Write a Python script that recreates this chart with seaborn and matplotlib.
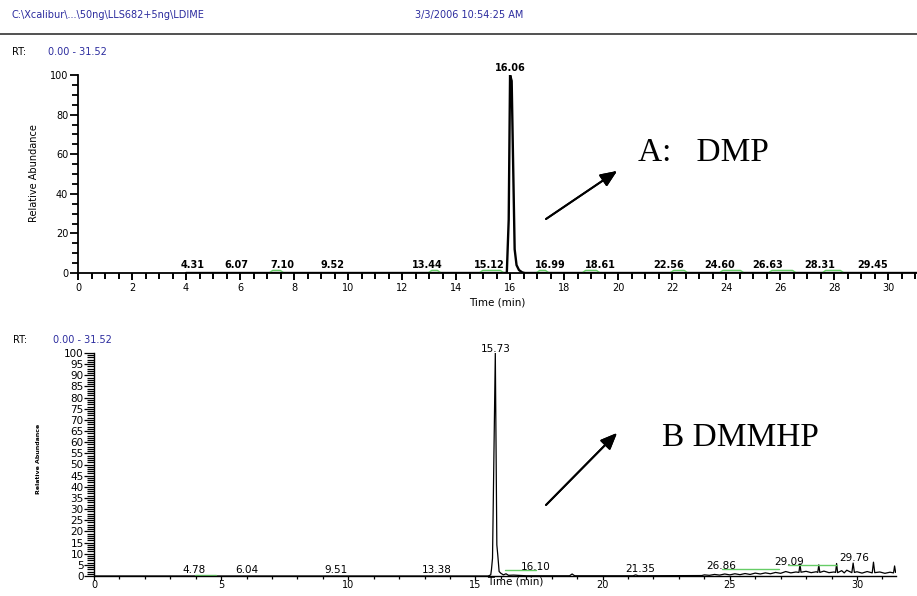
import matplotlib
matplotlib.use("Agg")
import pandas as pd
import matplotlib.pyplot as plt
from matplotlib.lines import Line2D
from matplotlib.ticker import MultipleLocator
import seaborn as sns

# header texts
file_path = r"C:\Xcalibur\...\50ng\LLS682+5ng\LDIME"
run_date = "3/3/2006 10:54:25 AM"
rt_range = "0.00 - 31.52"

# panel A (DMP) trace
a_time = [4.00, 15.88, 15.95, 16.00, 16.06, 16.11, 16.17, 16.24, 16.33, 16.45, 16.55, 31.07]
a_abund = [0, 0, 27, 100, 97, 58, 12, 4, 1.5, 0.3, 0, 0]

# panel A peak labels (text, x position where printed)
a_labels = ["4.31", "6.07", "7.10", "9.52", "13.44", "15.12", "16.99",
            "18.61", "22.56", "24.60", "26.63", "28.31", "29.45"]
a_label_x = [4.24, 5.85, 7.56, 9.43, 12.94, 15.22, 17.48,
             19.33, 21.87, 23.76, 25.52, 27.48, 29.41]
a_top_label = "16.06"
a_top_x = 16.02

# panel A integration marks (green)
a_green_start = [7.11, 13.00, 14.89, 17.00, 18.70, 21.96, 23.78, 25.60, 27.59]
a_green_end = [7.59, 13.41, 15.74, 17.41, 19.30, 22.55, 24.63, 26.56, 28.33]

# panel B (DMMHP) trace
b_time = [0.00, 15.50, 15.60, 15.63, 15.67, 15.78, 15.84, 15.88, 15.93, 16.00,
          16.10, 16.20, 16.30, 16.50, 17.00, 18.70, 18.80, 18.90, 21.20, 21.30,
          21.40, 23.90, 24.00, 24.20, 24.40, 24.60, 24.80, 25.00, 25.20, 25.40,
          25.60, 25.80, 26.00, 26.20, 26.40, 26.60, 26.80, 27.00, 27.20, 27.40,
          27.60, 27.72, 27.76, 27.80, 28.00, 28.20, 28.40, 28.46, 28.50, 28.54,
          28.70, 28.90, 29.10, 29.16, 29.20, 29.24, 29.40, 29.50, 29.60, 29.80,
          29.85, 29.90, 30.00, 30.20, 30.40, 30.60, 30.65, 30.70, 30.90, 31.10,
          31.30, 31.44, 31.48, 31.52]
b_abund = [0.0, 0.0, 0.5, 3.0, 8.0, 100.0, 14.0, 9.0, 2.0, 1.2,
           0.5, 1.0, 0.3, 0.4, 0.1, 0.1, 0.9, 0.1, 0.1, 0.5,
           0.1, 0.2, 0.5, 0.3, 0.7, 0.4, 0.9, 0.5, 1.0, 0.6,
           1.1, 0.7, 1.3, 0.9, 1.4, 1.0, 1.6, 1.2, 2.0, 1.4,
           1.8, 1.6, 5.5, 1.7, 2.1, 1.5, 1.9, 1.6, 5.0, 1.6,
           2.2, 1.5, 1.8, 1.6, 5.6, 1.5, 2.4, 1.4, 2.6, 1.5,
           5.8, 1.6, 1.9, 1.3, 2.0, 1.4, 6.2, 1.5, 1.8, 1.2,
           1.7, 1.4, 4.5, 1.6]

# panel B peak labels (text, x, y)
b_labels = ["4.78", "6.04", "9.51", "13.38", "15.73", "16.10", "21.35", "26.86", "29.09", "29.76"]
b_label_x = [3.93, 6.02, 9.52, 13.49, 15.81, 17.38, 21.47, 24.66, 27.33, 29.91]
b_label_y = [2.7, 2.7, 2.7, 2.7, 101.8, 4.0, 3.0, 4.5, 6.3, 8.0]

# panel B integration marks (green)
b_green_start = [3.97, 16.16, 24.70, 27.29]
b_green_end = [4.80, 17.38, 26.94, 29.22]
b_green_y = [0.5, 2.6, 3.0, 5.0]

df_a = pd.DataFrame({"time": a_time, "abund": a_abund})
df_b = pd.DataFrame({"time": b_time, "abund": b_abund})

sns.set_theme(style="ticks")
plt.rcParams["font.family"] = ["DejaVu Sans"]
plt.rcParams.update({"text.color": "black", "axes.labelcolor": "black",
                     "xtick.color": "black", "ytick.color": "black",
                     "xtick.labelcolor": "black", "ytick.labelcolor": "black"})

W, H = 917, 596
blue = "#2b2b9e"
green = "#66cc66"

fig = plt.figure(figsize=(W / 100, H / 100), dpi=100)
fig.patch.set_facecolor("white")


def fx(px):
    return px / W


def fy(py):
    return 1 - py / H


# header
fig.text(fx(12), fy(15), file_path, color=blue, fontsize=7, va="center", ha="left")
fig.text(fx(415), fy(15), run_date, color=blue, fontsize=7, va="center", ha="left")
fig.add_artist(Line2D([0, 1], [fy(34), fy(34)], transform=fig.transFigure, color="#333333", lw=1.2))

# ---------- panel A ----------
ax1 = fig.add_axes([fx(78), fy(273), fx(917 - 78), 198 / H])
sns.lineplot(data=df_a, x="time", y="abund", ax=ax1, color="black", lw=1.7,
             estimator=None, sort=False)
ax1.set_xlim(0, 31.07)
ax1.set_ylim(0, 100)
sns.despine(ax=ax1)
for s in ["left", "bottom"]:
    ax1.spines[s].set_linewidth(1.3)
    ax1.spines[s].set_color("black")
ax1.xaxis.set_major_locator(MultipleLocator(2))
ax1.xaxis.set_minor_locator(MultipleLocator(0.5))
ax1.yaxis.set_major_locator(MultipleLocator(20))
ax1.yaxis.set_minor_locator(MultipleLocator(5))
ax1.tick_params(axis="x", which="major", length=5, width=1.4, labelsize=7, pad=2)
ax1.tick_params(axis="x", which="minor", length=4.5, width=1.4)
ax1.tick_params(axis="y", which="major", length=6, width=1.3, labelsize=7, pad=1)
ax1.tick_params(axis="y", which="minor", length=4, width=1.3)
ax1.set_xlabel("Time (min)", fontsize=7.5)
ax1.xaxis.set_label_coords(0.5, -0.125)
ax1.set_ylabel("Relative Abundance", fontsize=7)
ax1.yaxis.set_label_coords(-0.047, 0.505)
ax1.set_facecolor("white")

for lab, x in zip(a_labels, a_label_x):
    ax1.text(x, 1.6, lab, fontsize=7, fontweight="bold", ha="center", va="bottom")
ax1.text(a_top_x, 100.8, a_top_label, fontsize=7, fontweight="bold", ha="center", va="bottom")
for x0, x1 in zip(a_green_start, a_green_end):
    ax1.plot([x0, x0 + 0.1, x1 - 0.1, x1], [0.4, 1.3, 1.3, 0.4], color=green, lw=1.0)

fig.text(fx(12), fy(52), "RT:", fontsize=7, va="center", ha="left")
fig.text(fx(48), fy(52), rt_range, fontsize=7, color=blue, va="center", ha="left")

# ---------- panel B ----------
ax2 = fig.add_axes([fx(94), fy(576), fx(801.6), 223 / H])
sns.lineplot(data=df_b, x="time", y="abund", ax=ax2, color="black", lw=0.9,
             estimator=None, sort=False)
ax2.set_xlim(0, 31.52)
ax2.set_ylim(0, 100)
sns.despine(ax=ax2)
for s in ["left", "bottom"]:
    ax2.spines[s].set_linewidth(1.0)
    ax2.spines[s].set_color("black")
ax2.xaxis.set_major_locator(MultipleLocator(5))
ax2.xaxis.set_minor_locator(MultipleLocator(1))
ax2.yaxis.set_major_locator(MultipleLocator(5))
ax2.yaxis.set_minor_locator(MultipleLocator(1))
ax2.tick_params(axis="x", which="major", length=3, width=0.9, labelsize=7, pad=0)
ax2.tick_params(axis="x", which="minor", length=2, width=0.9)
ax2.tick_params(axis="y", which="major", length=7, width=0.9, labelsize=7.5, pad=0.5)
ax2.tick_params(axis="y", which="minor", length=5, width=0.9)
ax2.set_xlabel("Time (min)", fontsize=7.5)
# nudged right so it clears the "15" tick label
ax2.xaxis.set_label_coords(0.525, -0.046)
ax2.xaxis.label.set_va("bottom")
ax2.set_ylabel("Relative Abundance", fontsize=4.5, fontweight="bold")
ax2.yaxis.set_label_coords(-0.066, 0.525)
ax2.set_facecolor("white")

for lab, x, y in zip(b_labels, b_label_x, b_label_y):
    ax2.text(x, y, lab, fontsize=7.5, ha="center", va="center")
for x0, x1, y in zip(b_green_start, b_green_end, b_green_y):
    ax2.plot([x0, x1], [y, y], color=green, lw=1.0)

fig.text(fx(13), fy(340), "RT:", fontsize=7, va="center", ha="left")
fig.text(fx(53), fy(340), rt_range, fontsize=7, color=blue, va="center", ha="left")

# ---------- arrows and compound names ----------
arrow_style = dict(arrowstyle="-|>,head_length=1.0,head_width=0.42", color="black",
                   lw=1.4, mutation_scale=10, shrinkA=0, shrinkB=0)
fig.add_artist(plt.annotate("", xy=(fx(617), fy(171)), xytext=(fx(546), fy(219)),
                            xycoords="figure fraction", textcoords="figure fraction",
                            arrowprops=arrow_style))
fig.add_artist(plt.annotate("", xy=(fx(617), fy(433)), xytext=(fx(546), fy(505)),
                            xycoords="figure fraction", textcoords="figure fraction",
                            arrowprops=arrow_style))
fig.text(fx(638), fy(153), "A:   DMP", fontsize=24, family="Liberation Serif", va="center", ha="left")
fig.text(fx(662), fy(438), "B DMMHP", fontsize=24, family="Liberation Serif", va="center", ha="left")

fig.savefig("out.png", dpi=100, facecolor="white")
